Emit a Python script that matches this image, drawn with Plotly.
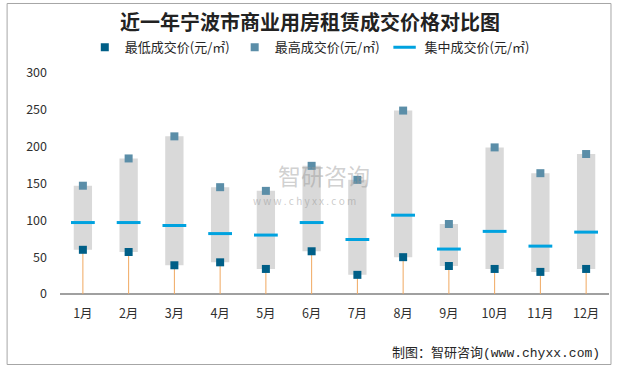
import plotly.graph_objects as go

months = ["1月", "2月", "3月", "4月", "5月", "6月", "7月", "8月", "9月", "10月", "11月", "12月"]
low_price = [60, 57, 39, 43, 34, 58, 26, 50, 38, 34, 30, 34]
high_price = [147, 184, 214, 145, 140, 174, 155, 249, 95, 199, 164, 190]
mid_price = [97, 97, 93, 82, 80, 97, 74, 107, 61, 85, 65, 84]

title_text = "近一年宁波市商业用房租赁成交价格对比图"
name_low = "最低成交价(元/㎡)"
name_high = "最高成交价(元/㎡)"
name_mid = "集中成交价(元/㎡)"
y_ticks = [0, 50, 100, 150, 200, 250, 300]

FONT = "Noto Sans CJK SC"

fig = go.Figure()

# grey range box
fig.add_trace(go.Bar(
    x=months,
    y=[h - l for h, l in zip(high_price, low_price)],
    base=low_price,
    width=0.4,
    marker=dict(color="#d9d9d9", line=dict(width=0)),
    showlegend=False,
    hoverinfo="skip",
))

# low price markers with orange drop line
fig.add_trace(go.Scatter(
    x=months, y=low_price, mode="markers", name=name_low,
    marker=dict(symbol="square", size=8, color="#005f87"),
    error_y=dict(type="data", symmetric=False, array=[0] * len(low_price),
                 arrayminus=low_price, color="#f0a860", thickness=1, width=0),
))

# high price markers
fig.add_trace(go.Scatter(
    x=months, y=high_price, mode="markers", name=name_high,
    marker=dict(symbol="square", size=8, color="#5b8ea8"),
))

# median dash
fig.add_trace(go.Scatter(
    x=months, y=mid_price, mode="markers", name=name_mid,
    marker=dict(symbol="line-ew", size=17, color="#00a2df",
                line=dict(color="#00a2df", width=3)),
))

fig.update_layout(
    width=620, height=369,
    margin=dict(l=59.5, r=10.5, t=72.7, b=74.7),
    paper_bgcolor="white", plot_bgcolor="white",
    barmode="overlay",
    font=dict(family=FONT, size=12, color="#404040"),
    title=dict(text="<b>" + title_text + "</b>", x=0.5, xanchor="center",
               y=1 - 23 / 369, yanchor="middle",
               font=dict(family=FONT, size=20, color="#222222")),
    legend=dict(orientation="h", x=0.455, xanchor="center", y=1.116, yanchor="middle",
                font=dict(family=FONT, size=13, color="#262626"),
                bgcolor="rgba(0,0,0,0)", itemwidth=30, tracegroupgap=0),
    showlegend=True,
)

fig.update_xaxes(
    showgrid=False, zeroline=False, showline=False, ticks="",
    ticklabelstandoff=10,
    tickfont=dict(family=FONT, size=12.5, color="#303030"),
    range=[-0.5, len(months) - 0.5],
)
fig.update_yaxes(
    range=[0, 300], tickvals=y_ticks, showgrid=False, zeroline=True,
    zerolinecolor="#a0a0a0", zerolinewidth=1.5, showline=False, ticks="",
    ticklabelstandoff=12,
    tickfont=dict(family=FONT, size=12.5, color="#303030"),
)

# watermark
fig.add_annotation(text="智研咨询", xref="paper", yref="paper",
                   x=(324 - 59.5) / 550, y=(294.3 - 175) / 221.6,
                   xanchor="center", yanchor="middle",
                   showarrow=False, font=dict(family=FONT, size=23, color="rgba(150,150,150,0.45)"))
fig.add_annotation(text="w w w . c h y x x . c o m", xref="paper", yref="paper",
                   x=(304 - 59.5) / 550, y=(294.3 - 201) / 221.6,
                   xanchor="center", yanchor="middle",
                   showarrow=False, font=dict(family=FONT, size=10, color="rgba(150,150,150,0.5)"))

# footer
fig.add_annotation(text="制图：智研咨询<span style='font-family:Liberation Mono'>(www.chyxx.com)</span>",
                   xref="paper", yref="paper",
                   x=(602 - 59.5) / 550, y=(294.3 - 352) / 221.6,
                   xanchor="right", yanchor="middle",
                   showarrow=False, font=dict(family=FONT, size=13, color="#262626"))

# outer border
fig.add_shape(type="rect", xref="paper", yref="paper",
              x0=(6.5 - 59.5) / 550, x1=(611.5 - 59.5) / 550,
              y0=(294.3 - 365) / 221.6, y1=(294.3 - 3) / 221.6,
              line=dict(color="#a6a6a6", width=1), fillcolor="rgba(0,0,0,0)", layer="below")

fig.write_html("out.html", config={"displayModeBar": False},
               post_script="document.body.style.margin='0';")
